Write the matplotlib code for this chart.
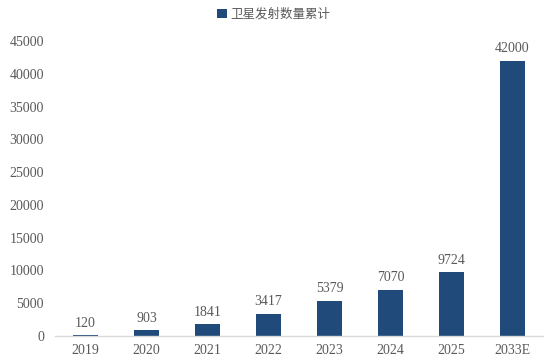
import numpy as np
import matplotlib
matplotlib.use('Agg')
import matplotlib.pyplot as plt
from matplotlib.patches import Patch

years = ['2019', '2020', '2021', '2022', '2023', '2024', '2025', '2033E']
counts = [120, 903, 1841, 3417, 5379, 7070, 9724, 42000]
yticks = [0, 5000, 10000, 15000, 20000, 25000, 30000, 35000, 40000, 45000]

bar_color = '#1F4A7A'
text_color = '#595959'

fig = plt.figure(figsize=(5.53, 3.62), dpi=100)
ax = fig.add_axes([55 / 553, 26 / 362, 488 / 553, 295 / 362])

x = np.arange(len(years))
ax.bar(x, counts, width=0.4, color=bar_color, zorder=2)
for xi, v in zip(x, counts):
    ax.text(xi, v + 800, str(v), ha='center', va='bottom',
            family='Liberation Serif', fontsize=10, color=text_color)

ax.set_xlim(-0.5, len(years) - 0.5)
ax.set_ylim(0, 45000)
ax.set_xticks(x)
ax.set_xticklabels(years, family='Liberation Serif', fontsize=10, color=text_color)
ax.set_yticks(yticks)
ax.set_yticklabels([str(t) for t in yticks], family='Liberation Serif', fontsize=10, color=text_color)
ax.tick_params(length=0, pad=8)
ax.tick_params(axis='x', pad=6)

for s in ['top', 'right', 'left']:
    ax.spines[s].set_visible(False)
ax.spines['bottom'].set_color('#D9D9D9')
ax.spines['bottom'].set_linewidth(1.0)

handle = Patch(facecolor=bar_color, label='卫星发射数量累计')
fig.legend(handles=[handle], loc='center', bbox_to_anchor=(0.495, 1 - 14 / 362),
           frameon=False, prop={'family': ['Noto Sans CJK SC', 'DejaVu Sans'], 'size': 9},
           handlelength=0.75, handleheight=0.75, handletextpad=0.3, labelcolor=text_color)

fig.savefig('out.png', dpi=100)
